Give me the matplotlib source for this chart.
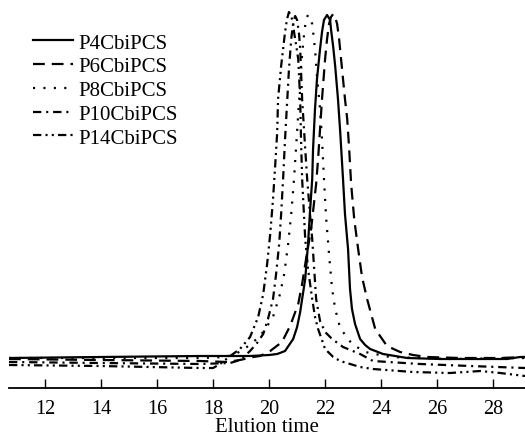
import matplotlib
matplotlib.use("Agg")
import matplotlib.pyplot as plt

# elution time (min) and detector signal (a.u.)
t_p4 = [10.71, 13.96, 17.54, 19.32, 20.0, 20.29, 20.57, 20.86, 21.0, 21.11, 21.18, 21.29, 21.39, 21.46, 21.54,
        21.57, 21.64, 21.71, 21.82, 21.89, 21.96, 22.07, 22.18, 22.21, 22.29, 22.36, 22.46, 22.54, 22.64, 22.71,
        22.82, 22.89, 22.96, 23.07, 23.25, 23.43, 23.61, 24.07, 24.93, 26.11, 27.54, 28.5, 28.96, 29.14]
y_p4 = [30, 31, 32, 32, 33, 34, 37, 49, 61, 76, 89, 109, 144, 176, 209,
        239, 279, 309, 339, 356, 368, 373, 368, 359, 341, 322, 289, 256, 209, 174,
        139, 99, 79, 64, 49, 43, 39, 34, 30, 29, 29, 29, 31, 31]

t_p6 = [10.71, 13.96, 17.54, 18.5, 18.96, 19.43, 19.68, 20.04, 20.46, 20.75, 21.04, 21.18, 21.32, 21.5, 21.68,
        21.75, 21.82, 21.89, 22.0, 22.07, 22.14, 22.21, 22.29, 22.36, 22.43, 22.5, 22.57, 22.64, 22.71, 22.79,
        22.86, 22.93, 23.04, 23.18, 23.32, 23.5, 23.79, 24.21, 24.68, 25.14, 25.64, 26.82, 28.25, 29.14]
y_p6 = [29, 28, 27, 26, 28, 31, 32, 37, 46, 62, 84, 104, 129, 159, 204,
        229, 259, 289, 329, 349, 364, 371, 374, 371, 364, 349, 329, 309, 289, 269,
        239, 204, 169, 139, 111, 89, 59, 42, 36, 33, 31, 30, 30, 31]

t_p8 = [10.71, 13.96, 17.54, 18.43, 18.79, 19.07, 19.39, 19.68, 19.93, 20.14, 20.39, 20.54, 20.68, 20.79,
        20.89, 20.96, 21.04, 21.11, 21.18, 21.25, 21.32, 21.39, 21.46, 21.54, 21.64, 21.71, 21.82, 21.89,
        21.96, 22.04, 22.14, 22.25, 22.36, 22.5, 22.64, 22.96, 23.43, 24.32, 26.46, 29.14]
y_p8 = [30, 30, 30, 31, 34, 38, 45, 52, 62, 71, 94, 114, 144, 174,
        209, 239, 274, 304, 334, 354, 369, 373, 370, 364, 339, 312, 279, 249,
        209, 169, 134, 99, 79, 64, 56, 44, 36, 31, 29, 30]

t_p10 = [10.71, 13.96, 17.54, 18.61, 18.96, 19.32, 19.57, 19.79, 19.96, 20.14, 20.25, 20.36, 20.43, 20.5,
         20.57, 20.64, 20.71, 20.79, 20.86, 20.93, 21.0, 21.07, 21.11, 21.18, 21.29, 21.36, 21.46, 21.54,
         21.61, 21.68, 21.82, 22.0, 22.25, 22.64, 23.25, 23.71, 25.39, 27.18, 29.14]
y_p10 = [26, 25, 24, 25, 28, 37, 45, 54, 69, 89, 114, 144, 174, 209,
         249, 284, 319, 349, 365, 372, 368, 354, 339, 289, 239, 209, 174, 149,
         119, 89, 67, 56, 49, 41, 34, 27, 24, 22, 20]

t_p14 = [10.71, 13.96, 17.54, 18.0, 18.25, 18.61, 18.96, 19.32, 19.61, 19.79, 19.93, 20.04, 20.14, 20.21,
         20.29, 20.32, 20.43, 20.57, 20.64, 20.71, 20.79, 20.86, 20.89, 20.96, 21.04, 21.11, 21.14, 21.18,
         21.29, 21.39, 21.54, 21.64, 21.75, 22.0, 22.29, 22.54, 23.25, 23.71, 25.14, 26.46, 27.54, 28.25, 29.14]
y_p14 = [23, 22, 20, 20, 24, 32, 39, 51, 71, 94, 124, 154, 189, 219,
         256, 289, 322, 356, 369, 376, 372, 364, 356, 344, 329, 289, 249, 209,
         149, 119, 89, 71, 59, 39, 31, 27, 21, 19, 16, 15, 17, 15, 12]

labels = ['P4CbiPCS', 'P6CbiPCS', 'P8CbiPCS', 'P10CbiPCS', 'P14CbiPCS']
ticks = [12, 14, 16, 18, 20, 22, 24, 26, 28]

plt.rcParams['font.family'] = ['Liberation Serif', 'DejaVu Serif']
plt.rcParams['lines.scale_dashes'] = False

fig = plt.figure(figsize=(5.25, 4.39), dpi=100)
ax = fig.add_axes([9 / 525, 50 / 439, 516 / 525, 389 / 439])

styles = ['-', (0, (8.5, 5)), (0, (1.5, 6)), (0, (6, 3.5, 1.5, 3.5)), (0, (6, 3, 1.5, 3, 1.5, 3))]
series = [(t_p4, y_p4), (t_p6, y_p6), (t_p8, y_p8), (t_p10, y_p10), (t_p14, y_p14)]
for (t, y), ls, lab in zip(series, styles, labels):
    ax.plot(t, y, color='black', lw=1.6, linestyle=ls, label=lab)

ax.set_xlim(10.71, 29.14)
ax.set_ylim(0, 389)
ax.set_xticks(ticks)
ax.set_yticks([])
for s in ['top', 'right', 'left']:
    ax.spines[s].set_visible(False)
ax.spines['bottom'].set_linewidth(1.3)
ax.tick_params(axis='x', direction='in', length=6.5, width=1, labelsize=14.5, pad=8)
ax.set_xlabel('Elution time', fontsize=15, labelpad=-1)

ax.legend(loc='upper left', bbox_to_anchor=(33 / 525, 1 - 34 / 439), bbox_transform=fig.transFigure,
          frameon=False, fontsize=15, handlelength=1.9, handletextpad=0.3, labelspacing=0.2,
          borderpad=0, borderaxespad=0)

fig.savefig('out.png', dpi=100)
